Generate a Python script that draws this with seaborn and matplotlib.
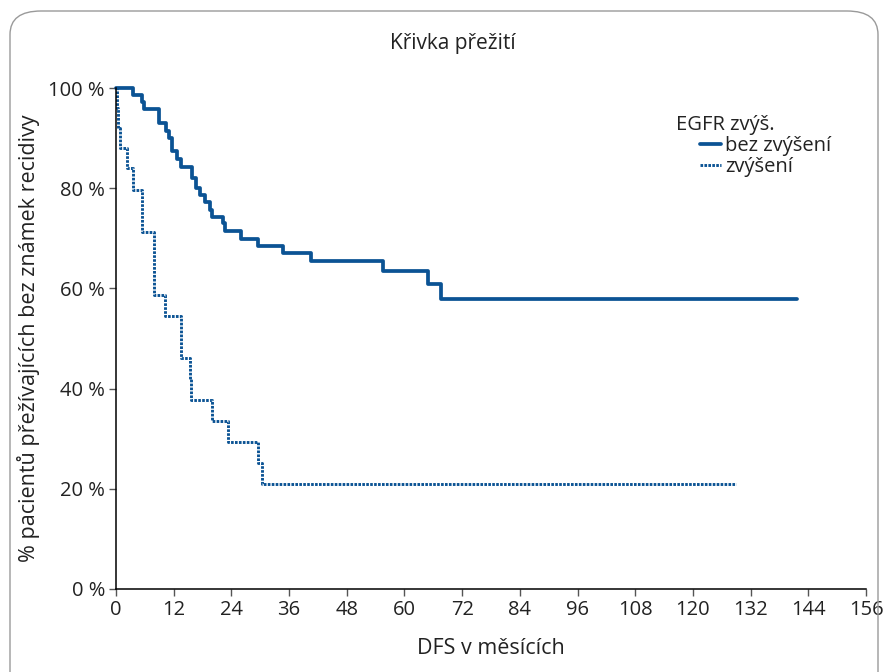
import matplotlib
matplotlib.use("Agg")
import matplotlib.pyplot as plt
from matplotlib.patches import FancyBboxPatch
import seaborn as sns
import pandas as pd

# Kaplan-Meier steps (months, % survival)
bez_time = [0, 3.6, 5.5, 5.9, 8.9, 10.5, 11.1, 11.6, 12.6, 13.5, 15.9, 16.7, 17.4,
            18.6, 19.5, 20.0, 22.3, 22.7, 26.1, 29.6, 34.7, 40.5, 55.6, 64.8, 67.7, 141.6]
bez_surv = [100, 98.6, 97.3, 95.9, 93.1, 91.5, 90.1, 87.5, 85.8, 84.3, 82.0, 80.0, 78.6,
            77.3, 75.7, 74.3, 73.0, 71.5, 69.9, 68.5, 67.0, 65.5, 63.5, 60.8, 57.8, 57.8]
zv_time = [0, 0.2, 0.5, 0.8, 2.2, 3.6, 5.5, 8.0, 10.2, 13.5, 15.3, 15.6, 20.0, 23.2,
           29.5, 30.4, 129.0]
zv_surv = [100, 96.0, 92.0, 88.0, 84.0, 79.7, 71.3, 58.7, 54.5, 46.2, 41.9, 37.8, 33.6,
           29.4, 25.1, 21.0, 21.0]

x_ticks = list(range(0, 157, 12))
y_ticks = [0, 20, 40, 60, 80, 100]
y_tick_labels = [f"{v} %" for v in y_ticks]

sns.set_style("ticks")
plt.rcParams['font.family'] = ['Open Sans', 'DejaVu Sans']
txt = '#222222'

fig = plt.figure(figsize=(8.86, 6.72), dpi=100)
ax = fig.add_axes([116 / 886, 1 - 589 / 672, 750 / 886, 501 / 672])

# rounded frame around the whole chart
frame = FancyBboxPatch((10 / 886, -0.05), 868 / 886, 1.05 - 11 / 672,
                       boxstyle="round,pad=0,rounding_size=0.035",
                       transform=fig.transFigure, fill=False,
                       edgecolor='#9a9a9a', linewidth=1.0, zorder=0)
fig.patches.append(frame)

blue = '#0b5394'
df_bez = pd.DataFrame({'t': bez_time, 's': bez_surv})
df_zv = pd.DataFrame({'t': zv_time, 's': zv_surv})

sns.lineplot(data=df_bez, x='t', y='s', ax=ax, estimator=None, drawstyle='steps-post',
             color=blue, linewidth=2.7, label='bez zvýšení', clip_on=False)
sns.lineplot(data=df_zv, x='t', y='s', ax=ax, estimator=None, drawstyle='steps-post',
             color=blue, linewidth=2.1, linestyle=(0, (0.9, 0.45)), label='zvýšení',
             clip_on=False)

ax.set_xlim(0, 156)
ax.set_ylim(0, 100)
ax.set_xticks(x_ticks)
ax.set_yticks(y_ticks)
ax.set_yticklabels(y_tick_labels)
ax.tick_params(axis='both', labelsize=14.5, colors='#555555', labelcolor=txt,
               length=5, width=1, pad=3)
for s in ['top', 'right']:
    ax.spines[s].set_visible(False)
for s in ['left', 'bottom']:
    ax.spines[s].set_color('black')
    ax.spines[s].set_linewidth(1.1)

ax.set_xlabel('DFS v měsících', fontsize=15.5, color=txt, labelpad=13)
ax.set_ylabel('% pacientů přežívajících bez známek recidivy', fontsize=15.5,
              color=txt, labelpad=6)
fig.text(453 / 886, 1 - 43 / 672, 'Křivka přežití', ha='center', va='center',
         fontsize=15, color=txt)

# legend title and indented entries
fig.text(676 / 886, 1 - 125 / 672, 'EGFR zvýš.', ha='left', va='center',
         fontsize=14.5, color=txt)
leg = ax.legend(loc='upper left', bbox_to_anchor=(700 / 886, 1 - 136 / 672),
                bbox_transform=fig.transFigure, frameon=False, fontsize=14.5,
                handlelength=1.05, handletextpad=0.2, labelspacing=0.05,
                borderpad=0, borderaxespad=0)
for t in leg.get_texts():
    t.set_color(txt)

fig.savefig('out.png', dpi=100)
